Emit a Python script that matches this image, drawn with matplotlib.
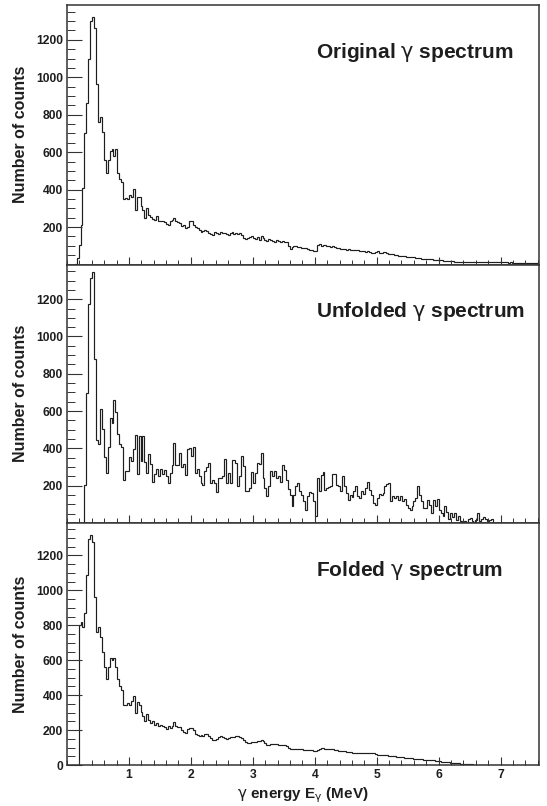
import numpy as np
import matplotlib
matplotlib.use("Agg")
import matplotlib.pyplot as plt
from matplotlib.ticker import MultipleLocator, FixedLocator

# ── data: counts per 31.25 keV bin, first bin starts at 0 MeV ────────────────
BIN_WIDTH = 0.03125  # MeV

original_counts = [
    0, 0, 0, 0, 5, 35, 105, 210, 410, 700,
    860, 1095, 1300, 1320, 1262, 965, 760, 790, 710, 560,
    490, 560, 605, 615, 580, 615, 490, 454, 440, 350,
    355, 350, 370, 360, 405, 290, 360, 360, 310, 290,
    250, 300, 265, 255, 245, 240, 260, 235, 230, 235,
    225, 215, 210, 235, 240, 250, 230, 225, 220, 205,
    210, 195, 200, 235, 235, 210, 200, 195, 185, 175,
    180, 185, 180, 170, 165, 160, 175, 170, 165, 175,
    170, 170, 165, 160, 170, 175, 165, 170, 165, 170,
    160, 140, 135, 140, 145, 150, 140, 135, 145, 130,
    150, 140, 130, 125, 135, 130, 125, 120, 130, 125,
    120, 128, 118, 120, 100, 82, 95, 99, 99, 92,
    95, 88, 90, 90, 85, 80, 76, 72, 72, 105,
    107, 100, 104, 102, 98, 100, 94, 97, 95, 90,
    88, 84, 82, 81, 78, 84, 80, 77, 77, 75,
    80, 74, 70, 72, 68, 70, 66, 64, 63, 66,
    70, 64, 60, 69, 66, 60, 57, 55, 54, 52,
    50, 48, 47, 45, 46, 42, 41, 40, 40, 38,
    36, 34, 33, 31, 32, 30, 28, 28, 28, 26,
    24, 23, 22, 22, 21, 20, 19, 19, 19, 17,
    16, 16, 15, 15, 14, 14, 13, 13, 13, 14,
    15, 12, 13, 15, 16, 14, 12, 13, 13, 14,
    12, 13, 14, 13, 12, 14, 12, 11, 10, 11,
    10, 9, 10, 10, 9, 10, 8, 10, 9, 10,
    8, 9, 10, 8,
]

unfolded_counts = [
    0, 0, 0, 0, 0, 0, 0, 0, 0, 205,
    698, 1173, 1315, 1344, 880, 445, 424, 612, 502, 356,
    267, 406, 561, 537, 662, 594, 477, 424, 410, 228,
    278, 278, 356, 335, 395, 473, 264, 466, 335, 466,
    326, 267, 370, 317, 220, 265, 287, 250, 290, 263,
    285, 250, 215, 270, 313, 427, 310, 310, 375, 300,
    315, 255, 395, 400, 360, 410, 267, 290, 250, 215,
    205, 280, 300, 320, 215, 230, 215, 166, 240, 240,
    250, 342, 214, 267, 214, 338, 338, 320, 200, 250,
    360, 303, 170, 170, 187, 276, 214, 267, 321, 318,
    374, 240, 187, 143, 200, 281, 253, 281, 240, 250,
    222, 311, 285, 231, 184, 152, 89, 152, 196, 217,
    170, 150, 116, 72, 143, 164, 160, 116, 36, 240,
    170, 258, 276, 178, 187, 192, 200, 263, 263, 205,
    196, 170, 253, 196, 161, 125, 152, 138, 170, 196,
    146, 134, 170, 158, 185, 222, 175, 152, 107, 98,
    134, 155, 152, 160, 196, 210, 214, 116, 143, 134,
    146, 125, 143, 116, 130, 98, 80, 72, 93, 116,
    134, 196, 152, 116, 80, 80, 125, 98, 51, 121,
    89, 129, 72, 54, 40, 89, 57, 22, 54, 33,
    51, 15, 40, 10, 5, 10, 1, 22, 28, 10,
    5, 18, 54, 10, 22, 33, 22, 10, 18, 22,
]

folded_counts = [
    0, 0, 0, 0, 0, 0, 800, 818, 790, 870,
    1090, 1296, 1315, 1280, 965, 760, 790, 735, 650, 560,
    490, 560, 610, 600, 615, 560, 490, 450, 430, 346,
    346, 355, 346, 365, 394, 300, 363, 346, 303, 279,
    250, 294, 260, 241, 250, 231, 241, 226, 231, 222,
    218, 206, 226, 212, 222, 248, 226, 218, 218, 203,
    187, 183, 206, 214, 210, 199, 180, 174, 164, 172,
    164, 176, 176, 164, 155, 145, 141, 149, 160, 168,
    160, 155, 149, 153, 158, 160, 162, 166, 164, 158,
    153, 145, 130, 124, 126, 130, 134, 134, 138, 140,
    143, 138, 125, 115, 117, 119, 120, 120, 118, 116,
    114, 113, 112, 108, 100, 92, 90, 91, 92, 93,
    94, 90, 88, 86, 86, 84, 84, 82, 80, 86,
    92, 96, 95, 94, 93, 92, 92, 90, 88, 85,
    82, 80, 79, 78, 76, 74, 72, 71, 70, 69,
    68, 68, 67, 66, 68, 70, 71, 70, 66, 62,
    58, 56, 55, 56, 57, 55, 54, 52, 50, 49,
    48, 47, 45, 43, 41, 40, 40, 39, 38, 37,
    36, 35, 34, 32, 31, 30, 29, 28, 27, 26,
    25, 24, 22, 20, 19, 18, 16, 15, 13, 12,
    11, 10, 9, 8, 7, 5, 4, 4, 3, 3,
    2, 2, 2, 1, 1, 1, 1, 1,
]

titles = [
    r"Original $\mathrm{\gamma}$ spectrum",
    r"Unfolded $\mathrm{\gamma}$ spectrum",
    r"Folded $\mathrm{\gamma}$ spectrum",
]
x_major_ticks = [1, 2, 3, 4, 5, 6, 7]
x_label = r"$\mathrm{\gamma}$ energy E$_{\mathrm{\gamma}}$ (MeV)"
y_label = "Number of counts"

# ── style ─────────────────────────────────────────────────────────────────────
W, H, DPI = 547, 806, 100
FONT = "Liberation Sans"
INK = "#1e1e1e"
FRAME = "#333333"
XMAX = 7.62
YMAX = 1386

# panel rectangles in pixels: (top, bottom)
LEFT_PX, RIGHT_PX = 67, 539
PANELS_PX = [(5, 264.5), (264.5, 523), (523, 765)]

plt.rcParams["font.family"] = [FONT, "DejaVu Sans"]
plt.rcParams["font.weight"] = "normal"
plt.rcParams["mathtext.fontset"] = "dejavusans"

fig = plt.figure(figsize=(W / DPI, H / DPI), dpi=DPI)

spectra = [original_counts, unfolded_counts, folded_counts]
for k, (counts, title, (top, bot)) in enumerate(zip(spectra, titles, PANELS_PX)):
    rect = [LEFT_PX / W, 1 - bot / H, (RIGHT_PX - LEFT_PX) / W, (bot - top) / H]
    ax = fig.add_axes(rect)
    counts = np.asarray(counts, dtype=float)
    edges = np.arange(len(counts) + 1) * BIN_WIDTH
    ax.stairs(counts, edges, baseline=0, color=INK, lw=0.85)

    ax.set_xlim(0, XMAX)
    ax.set_ylim(0, YMAX)

    for s in ax.spines.values():
        s.set_color(FRAME)
        s.set_linewidth(1.1)

    ax.xaxis.set_major_locator(FixedLocator(x_major_ticks))
    ax.xaxis.set_minor_locator(MultipleLocator(0.2))
    yt = [0, 200, 400, 600, 800, 1000, 1200] if k == 2 else [200, 400, 600, 800, 1000, 1200]
    ax.yaxis.set_major_locator(FixedLocator(yt))
    ax.yaxis.set_minor_locator(MultipleLocator(50))

    ax.tick_params(axis="both", which="both", direction="in", color=FRAME,
                   top=False, right=False, labelsize=8.7, labelcolor=INK)
    ax.tick_params(axis="y", which="major", length=11, width=0.8, pad=3)
    ax.tick_params(axis="y", which="minor", length=5.5, width=0.7)
    ax.tick_params(axis="x", which="major", length=6, width=0.8, pad=3)
    ax.tick_params(axis="x", which="minor", length=3.3, width=0.7)
    if k < 2:
        ax.tick_params(axis="x", labelbottom=False)
    for lbl in ax.get_xticklabels() + ax.get_yticklabels():
        lbl.set_fontweight("bold")

    ax.set_ylabel(y_label, fontsize=11.5, fontweight="bold", color=INK)
    ax.yaxis.set_label_coords(-0.083, 0.5)

    ax.text(0.527, 1 - 47 / (bot - top), title, transform=ax.transAxes,
            ha="left", va="center", fontsize=15, fontweight="bold", color=INK)

    if k == 2:
        ax.set_xlabel(x_label, fontsize=11, fontweight="bold", color=INK)
        ax.xaxis.set_label_coords(0.5, -0.085)

fig.savefig("out.png", dpi=DPI)
